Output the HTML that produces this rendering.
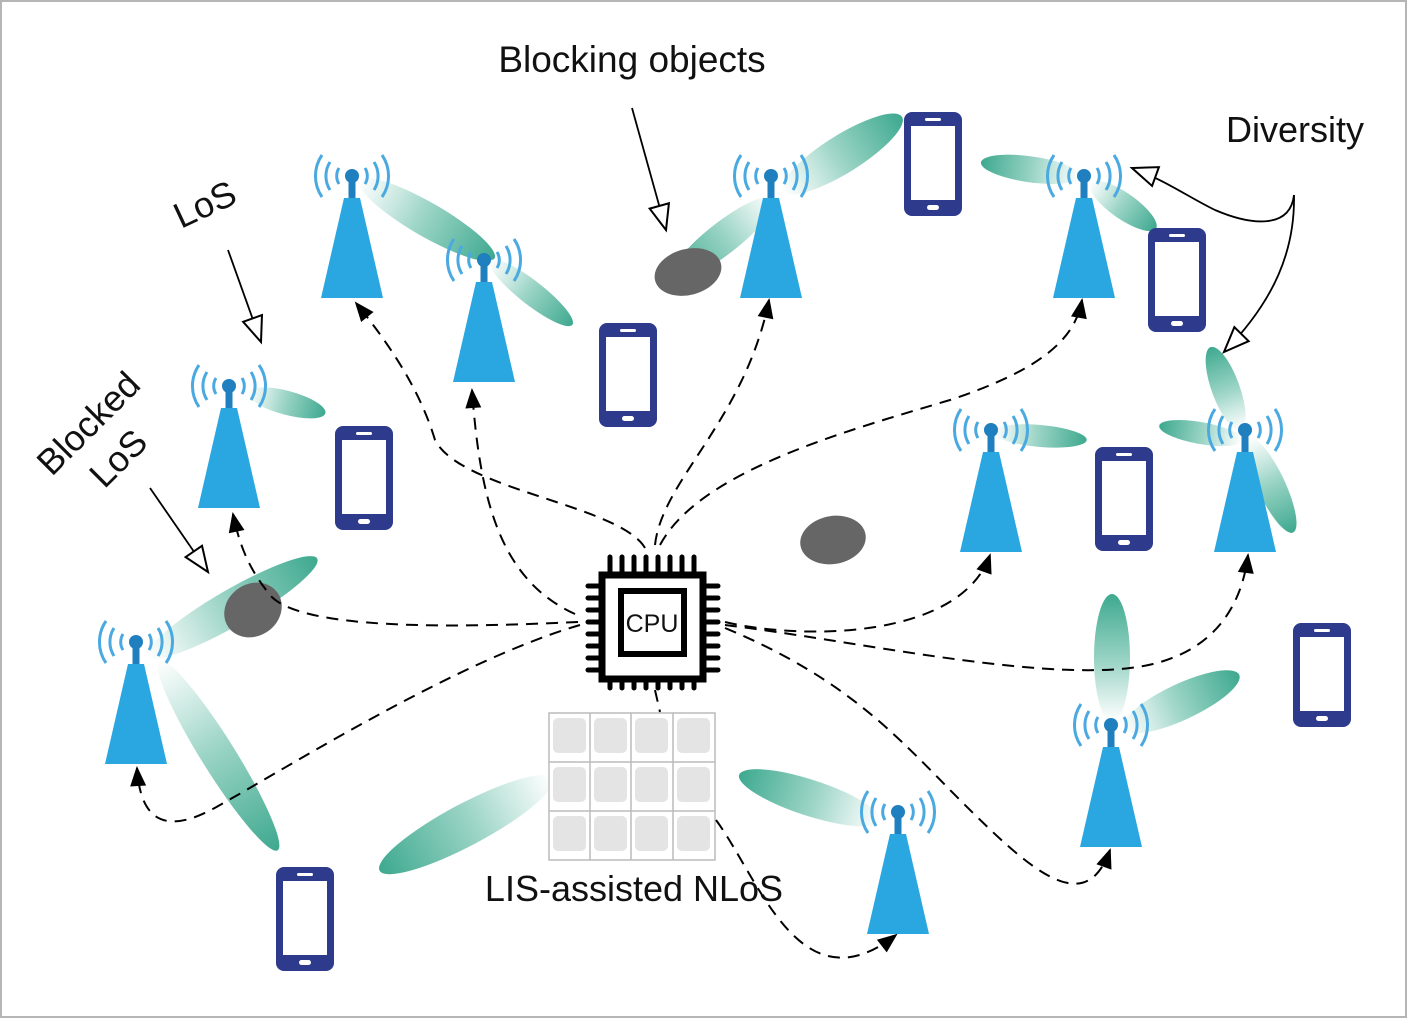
<!DOCTYPE html>
<html><head><meta charset="utf-8"><style>
html,body{margin:0;padding:0;background:#fff}
svg{display:block}
text{font-family:"Liberation Sans",sans-serif;fill:#111}
</style></head><body>
<svg width="1408" height="1019" viewBox="0 0 1408 1019" xmlns="http://www.w3.org/2000/svg">
<defs>
<linearGradient id="bg" x1="0" x2="1" y1="0" y2="0">
<stop offset="0" stop-color="#ffffff" stop-opacity="0.9"/>
<stop offset="0.45" stop-color="#9fd6c8"/>
<stop offset="1" stop-color="#3ea98f"/>
</linearGradient>
<g id="tw">
<path d="M-22,-14 A26,26 0 0 0 -22,14 M-30,-21 A37,37 0 0 0 -30,21 M-13,-8 A15,15 0 0 0 -13,8 M22,-14 A26,26 0 0 1 22,14 M30,-21 A37,37 0 0 1 30,21 M13,-8 A15,15 0 0 1 13,8" fill="none" stroke="#4aa9e0" stroke-width="3"/>
<circle r="7" fill="#1f7fbf"/>
<rect x="-3.5" y="0" width="7" height="22" fill="#1f7fbf"/>
<path d="M-8,22 L8,22 L31,122 L-31,122 Z" fill="#2aa6e0"/>
</g>
<g id="ph">
<rect x="0" y="0" width="58" height="104" rx="8" fill="#2e3a8c"/>
<rect x="7" y="14" width="44" height="74" fill="#fff"/>
<rect x="21" y="6" width="16" height="3" rx="1.5" fill="#fff"/>
<rect x="23" y="93" width="12" height="5" rx="2.5" fill="#fff"/>
</g>
<marker id="ah" viewBox="0 0 10 10" refX="9" refY="5" markerWidth="24" markerHeight="20" markerUnits="userSpaceOnUse" orient="auto"><path d="M0,1 L10,5 L0,9 Z" fill="#000"/></marker>
<marker id="oh" viewBox="0 0 12 10" refX="11" refY="5" markerWidth="30" markerHeight="26" markerUnits="userSpaceOnUse" orient="auto"><path d="M1,1 L11,5 L1,9 Z" fill="#fff" stroke="#000" stroke-width="0.8"/></marker>
</defs>
<rect x="1" y="1" width="1405" height="1016" fill="#fff" stroke="#b5b5b5" stroke-width="2"/>

<g fill="url(#bg)">
<ellipse cx="75" cy="0" rx="78" ry="17" transform="translate(362,182) rotate(30)"/>
<ellipse cx="50" cy="0" rx="52" ry="12" transform="translate(492,262) rotate(38)"/>
<ellipse cx="38" cy="0" rx="40" ry="12" transform="translate(250,393) rotate(15)"/>
<ellipse cx="68" cy="0" rx="70" ry="19" transform="translate(785,190) rotate(-32)"/>
<ellipse cx="62" cy="0" rx="64" ry="16" transform="translate(772,200) rotate(142)"/>
<ellipse cx="48" cy="0" rx="50" ry="13" transform="translate(1078,176) rotate(-172)"/>
<ellipse cx="38" cy="0" rx="40" ry="13" transform="translate(1092,184) rotate(35)"/>
<ellipse cx="45" cy="0" rx="47" ry="11" transform="translate(995,432) rotate(5)"/>
<ellipse cx="42" cy="0" rx="44" ry="14" transform="translate(1240,428) rotate(-110)"/>
<ellipse cx="40" cy="0" rx="42" ry="11" transform="translate(1240,440) rotate(-170)"/>
<ellipse cx="50" cy="0" rx="52" ry="14" transform="translate(1250,440) rotate(65)"/>
<ellipse cx="95" cy="0" rx="98" ry="18" transform="translate(150,655) rotate(-30)"/>
<ellipse cx="110" cy="0" rx="112" ry="17" transform="translate(160,662) rotate(58)"/>
<ellipse cx="95" cy="0" rx="98" ry="21" transform="translate(550,780) rotate(152)"/>
<ellipse cx="72" cy="0" rx="74" ry="18" transform="translate(878,820) rotate(198)"/>
<ellipse cx="62" cy="0" rx="64" ry="18" transform="translate(1112,720) rotate(-90)"/>
<ellipse cx="62" cy="0" rx="64" ry="18" transform="translate(1125,728) rotate(-25)"/>
</g>

<ellipse cx="688" cy="272" rx="34" ry="23" transform="rotate(-15 688 272)" fill="#666"/>
<ellipse cx="833" cy="540" rx="33" ry="24" transform="rotate(-10 833 540)" fill="#666"/>
<ellipse cx="253" cy="610" rx="30" ry="26" transform="rotate(-35 253 610)" fill="#666"/>

<use href="#tw" x="352" y="176"/>
<use href="#tw" x="484" y="260"/>
<use href="#tw" x="229" y="386"/>
<use href="#tw" x="771" y="176"/>
<use href="#tw" x="1084" y="176"/>
<use href="#tw" x="991" y="430"/>
<use href="#tw" x="1245" y="430"/>
<use href="#tw" x="136" y="642"/>
<use href="#tw" x="898" y="812"/>
<use href="#tw" x="1111" y="725"/>

<use href="#ph" x="904" y="112"/>
<use href="#ph" x="599" y="323"/>
<use href="#ph" x="335" y="426"/>
<use href="#ph" x="1148" y="228"/>
<use href="#ph" x="1095" y="447"/>
<use href="#ph" x="1293" y="623"/>
<use href="#ph" x="276" y="867"/>

<g>
<rect x="549" y="713" width="166" height="147" fill="#fff" stroke="#bbb" stroke-width="1.5"/>
<path d="M590,713V860M631,713V860M673,713V860M549,762H715M549,811H715" stroke="#bbb" stroke-width="1.5"/>
<g fill="#e4e4e4">
<rect x="553" y="718" width="33" height="35" rx="5"/><rect x="594" y="718" width="33" height="35" rx="5"/><rect x="635" y="718" width="33" height="35" rx="5"/><rect x="677" y="718" width="33" height="35" rx="5"/>
<rect x="553" y="767" width="33" height="35" rx="5"/><rect x="594" y="767" width="33" height="35" rx="5"/><rect x="635" y="767" width="33" height="35" rx="5"/><rect x="677" y="767" width="33" height="35" rx="5"/>
<rect x="553" y="816" width="33" height="35" rx="5"/><rect x="594" y="816" width="33" height="35" rx="5"/><rect x="635" y="816" width="33" height="35" rx="5"/><rect x="677" y="816" width="33" height="35" rx="5"/>
</g>
</g>

<g fill="none" stroke="#000" stroke-width="2" stroke-dasharray="12,8" marker-end="url(#ah)">
<path d="M645,548 C620,505 460,490 435,440 C420,390 390,345 356,303"/>
<path d="M575,614 C500,580 480,500 472,390"/>
<path d="M578,622 C450,628 300,630 270,595 C250,570 240,548 233,514"/>
<path d="M580,625 C460,660 300,760 220,805 C160,840 140,815 137,768"/>
<path d="M655,545 C662,480 745,420 769,300"/>
<path d="M660,545 C700,470 850,430 950,400 C1040,370 1075,340 1082,300"/>
<path d="M725,622 C800,640 960,640 990,555"/>
<path d="M725,625 C850,640 1030,680 1130,668 C1200,660 1240,620 1248,555"/>
<path d="M725,628 C850,680 900,740 960,800 C1030,870 1085,920 1110,850"/>
<path d="M716,820 C760,880 800,1010 896,935"/>
</g>
<path d="M655,690 L660,712" stroke="#000" stroke-width="2" stroke-dasharray="12,8"/>

<g stroke="#000" stroke-linecap="round" stroke-width="5">
<path d="M610,557V575M622,557V575M634,557V575M646,557V575M658,557V575M670,557V575M682,557V575M694,557V575"/>
<path d="M610,678V688M622,678V688M634,678V688M646,678V688M658,678V688M670,678V688M682,678V688M694,678V688"/>
<path d="M588,586H600M588,598H600M588,610H600M588,622H600M588,634H600M588,646H600M588,658H600M588,670H600"/>
<path d="M705,586H718M705,598H718M705,610H718M705,622H718M705,634H718M705,646H718M705,658H718M705,670H718"/>
</g>
<rect x="602" y="575" width="101" height="104" fill="#fff" stroke="#000" stroke-width="7"/>
<rect x="621" y="591" width="63" height="63" fill="#fff" stroke="#000" stroke-width="6"/>
<text x="652" y="632" font-size="25" text-anchor="middle">CPU</text>

<text x="632" y="72" font-size="37" text-anchor="middle">Blocking objects</text>
<path d="M632,108 L666,230" stroke="#000" stroke-width="1.8" fill="none" marker-end="url(#oh)"/>
<text x="0" y="0" font-size="36" transform="translate(181,229) rotate(-25)">LoS</text>
<path d="M228,250 L261,342" stroke="#000" stroke-width="1.8" fill="none" marker-end="url(#oh)"/>
<text x="0" y="0" font-size="36" text-anchor="middle" transform="translate(97,432) rotate(-45)">Blocked</text>
<text x="0" y="0" font-size="36" text-anchor="middle" transform="translate(127,467) rotate(-45)">LoS</text>
<path d="M150,488 L208,572" stroke="#000" stroke-width="1.8" fill="none" marker-end="url(#oh)"/>
<text x="1295" y="142" font-size="36" text-anchor="middle">Diversity</text>
<path d="M1294,195 C1290,230 1250,225 1215,210 C1190,198 1165,180 1132,168" stroke="#000" stroke-width="1.8" fill="none" marker-end="url(#oh)"/>
<path d="M1294,195 C1295,250 1275,300 1224,352" stroke="#000" stroke-width="1.8" fill="none" marker-end="url(#oh)"/>
<text x="634" y="901" font-size="36" text-anchor="middle" fill="#222">LIS-assisted NLoS</text>
</svg>
</body></html>
